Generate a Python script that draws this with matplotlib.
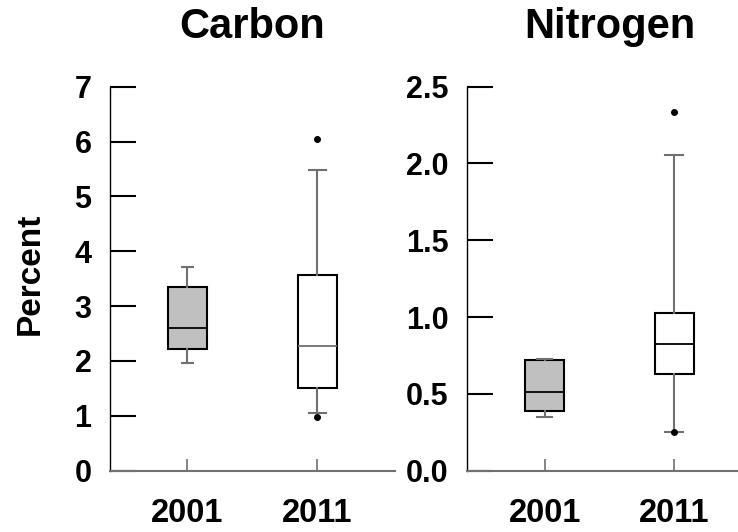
import matplotlib
matplotlib.use("Agg")
import matplotlib.pyplot as plt

plt.rcParams['font.family'] = ['Liberation Sans', 'DejaVu Sans']
plt.rcParams['font.weight'] = 'bold'

years = ['2001', '2011']

# Carbon (%) box statistics per year
carbon_whislo = [1.96, 1.06]
carbon_q1 = [2.21, 1.51]
carbon_med = [2.60, 2.28]
carbon_q3 = [3.35, 3.56]
carbon_whishi = [3.71, 5.49]
carbon_fliers = [[], [6.04, 0.97]]
carbon_ticks = [0, 1, 2, 3, 4, 5, 6, 7]

# Nitrogen (%) box statistics per year
nitrogen_whislo = [0.347, 0.255]
nitrogen_q1 = [0.39, 0.63]
nitrogen_med = [0.51, 0.823]
nitrogen_q3 = [0.72, 1.027]
nitrogen_whishi = [0.729, 2.055]
nitrogen_fliers = [[], [2.333, 0.25]]
nitrogen_ticks = [0.0, 0.5, 1.0, 1.5, 2.0, 2.5]

fills = ['#c0c0c0', '#ffffff']
grey = '#707070'

W, H = 738, 532
fig = plt.figure(figsize=(W / 100, H / 100), dpi=100)

ax_w = 285.5 / W
ax_b = 1 - 470.7 / H
ax_h = (470.7 - 86.7) / H
ax_c = fig.add_axes([109.5 / W, ax_b, ax_w, ax_h])
ax_n = fig.add_axes([466.7 / W, ax_b, ax_w, ax_h])


def stats(lo, q1, med, q3, hi, fl):
    return [dict(whislo=lo[i], q1=q1[i], med=med[i], q3=q3[i], whishi=hi[i],
                 fliers=fl[i], label=years[i]) for i in range(len(years))]


def draw(ax, st, ylim, ticks, fmt, title, capw, median_colors):
    bp = ax.bxp(st, positions=[1, 2], widths=0.3, patch_artist=True,
                capwidths=capw,
                boxprops=dict(edgecolor='black', linewidth=1.5),
                whiskerprops=dict(color=grey, linewidth=1.5),
                capprops=dict(color=grey, linewidth=1.5),
                medianprops=dict(linewidth=1.3),
                flierprops=dict(marker='o', markersize=4, markerfacecolor='black',
                                markeredgecolor='black', linestyle='none'))
    for patch, fc in zip(bp['boxes'], fills):
        patch.set_facecolor(fc)
    for line, c in zip(bp['medians'], median_colors):
        line.set_color(c)
    ax.set_xlim(0.4, 2.6)
    ax.set_ylim(*ylim)
    ax.set_yticks(ticks)
    ax.set_yticklabels([fmt.format(t) for t in ticks])
    ax.set_xticks([1, 2])
    ax.set_xticklabels(years)
    for s in ('top', 'right'):
        ax.spines[s].set_visible(False)
    ax.spines['left'].set_linewidth(1.0)
    ax.spines['left'].set_color('black')
    ax.spines['bottom'].set_linewidth(1.5)
    ax.spines['bottom'].set_color(grey)
    ax.tick_params(axis='y', direction='in', length=19, width=1.5, color='black',
                   labelsize=22, pad=13)
    ax.tick_params(axis='x', direction='in', length=9, width=1.2, color=grey,
                   labelsize=23.5, pad=20)
    for lab in ax.get_xticklabels() + ax.get_yticklabels():
        lab.set_fontweight('bold')
    ax.set_title(title, fontsize=30, fontweight='bold', pad=35)


draw(ax_c, stats(carbon_whislo, carbon_q1, carbon_med, carbon_q3, carbon_whishi,
                 carbon_fliers),
     (0, 7), carbon_ticks, '{:.0f}', 'Carbon', [0.09, 0.13], ['black', grey])
draw(ax_n, stats(nitrogen_whislo, nitrogen_q1, nitrogen_med, nitrogen_q3,
                 nitrogen_whishi, nitrogen_fliers),
     (0, 2.5), nitrogen_ticks, '{:.1f}', 'Nitrogen', [0.11, 0.14], ['black', 'black'])

ax_c.set_ylabel('Percent', fontsize=24, fontweight='bold',
                rotation=90, ha='center', va='center')
ax_c.yaxis.set_label_coords(-0.278, 0.512)

fig.savefig('out.png', dpi=100)
